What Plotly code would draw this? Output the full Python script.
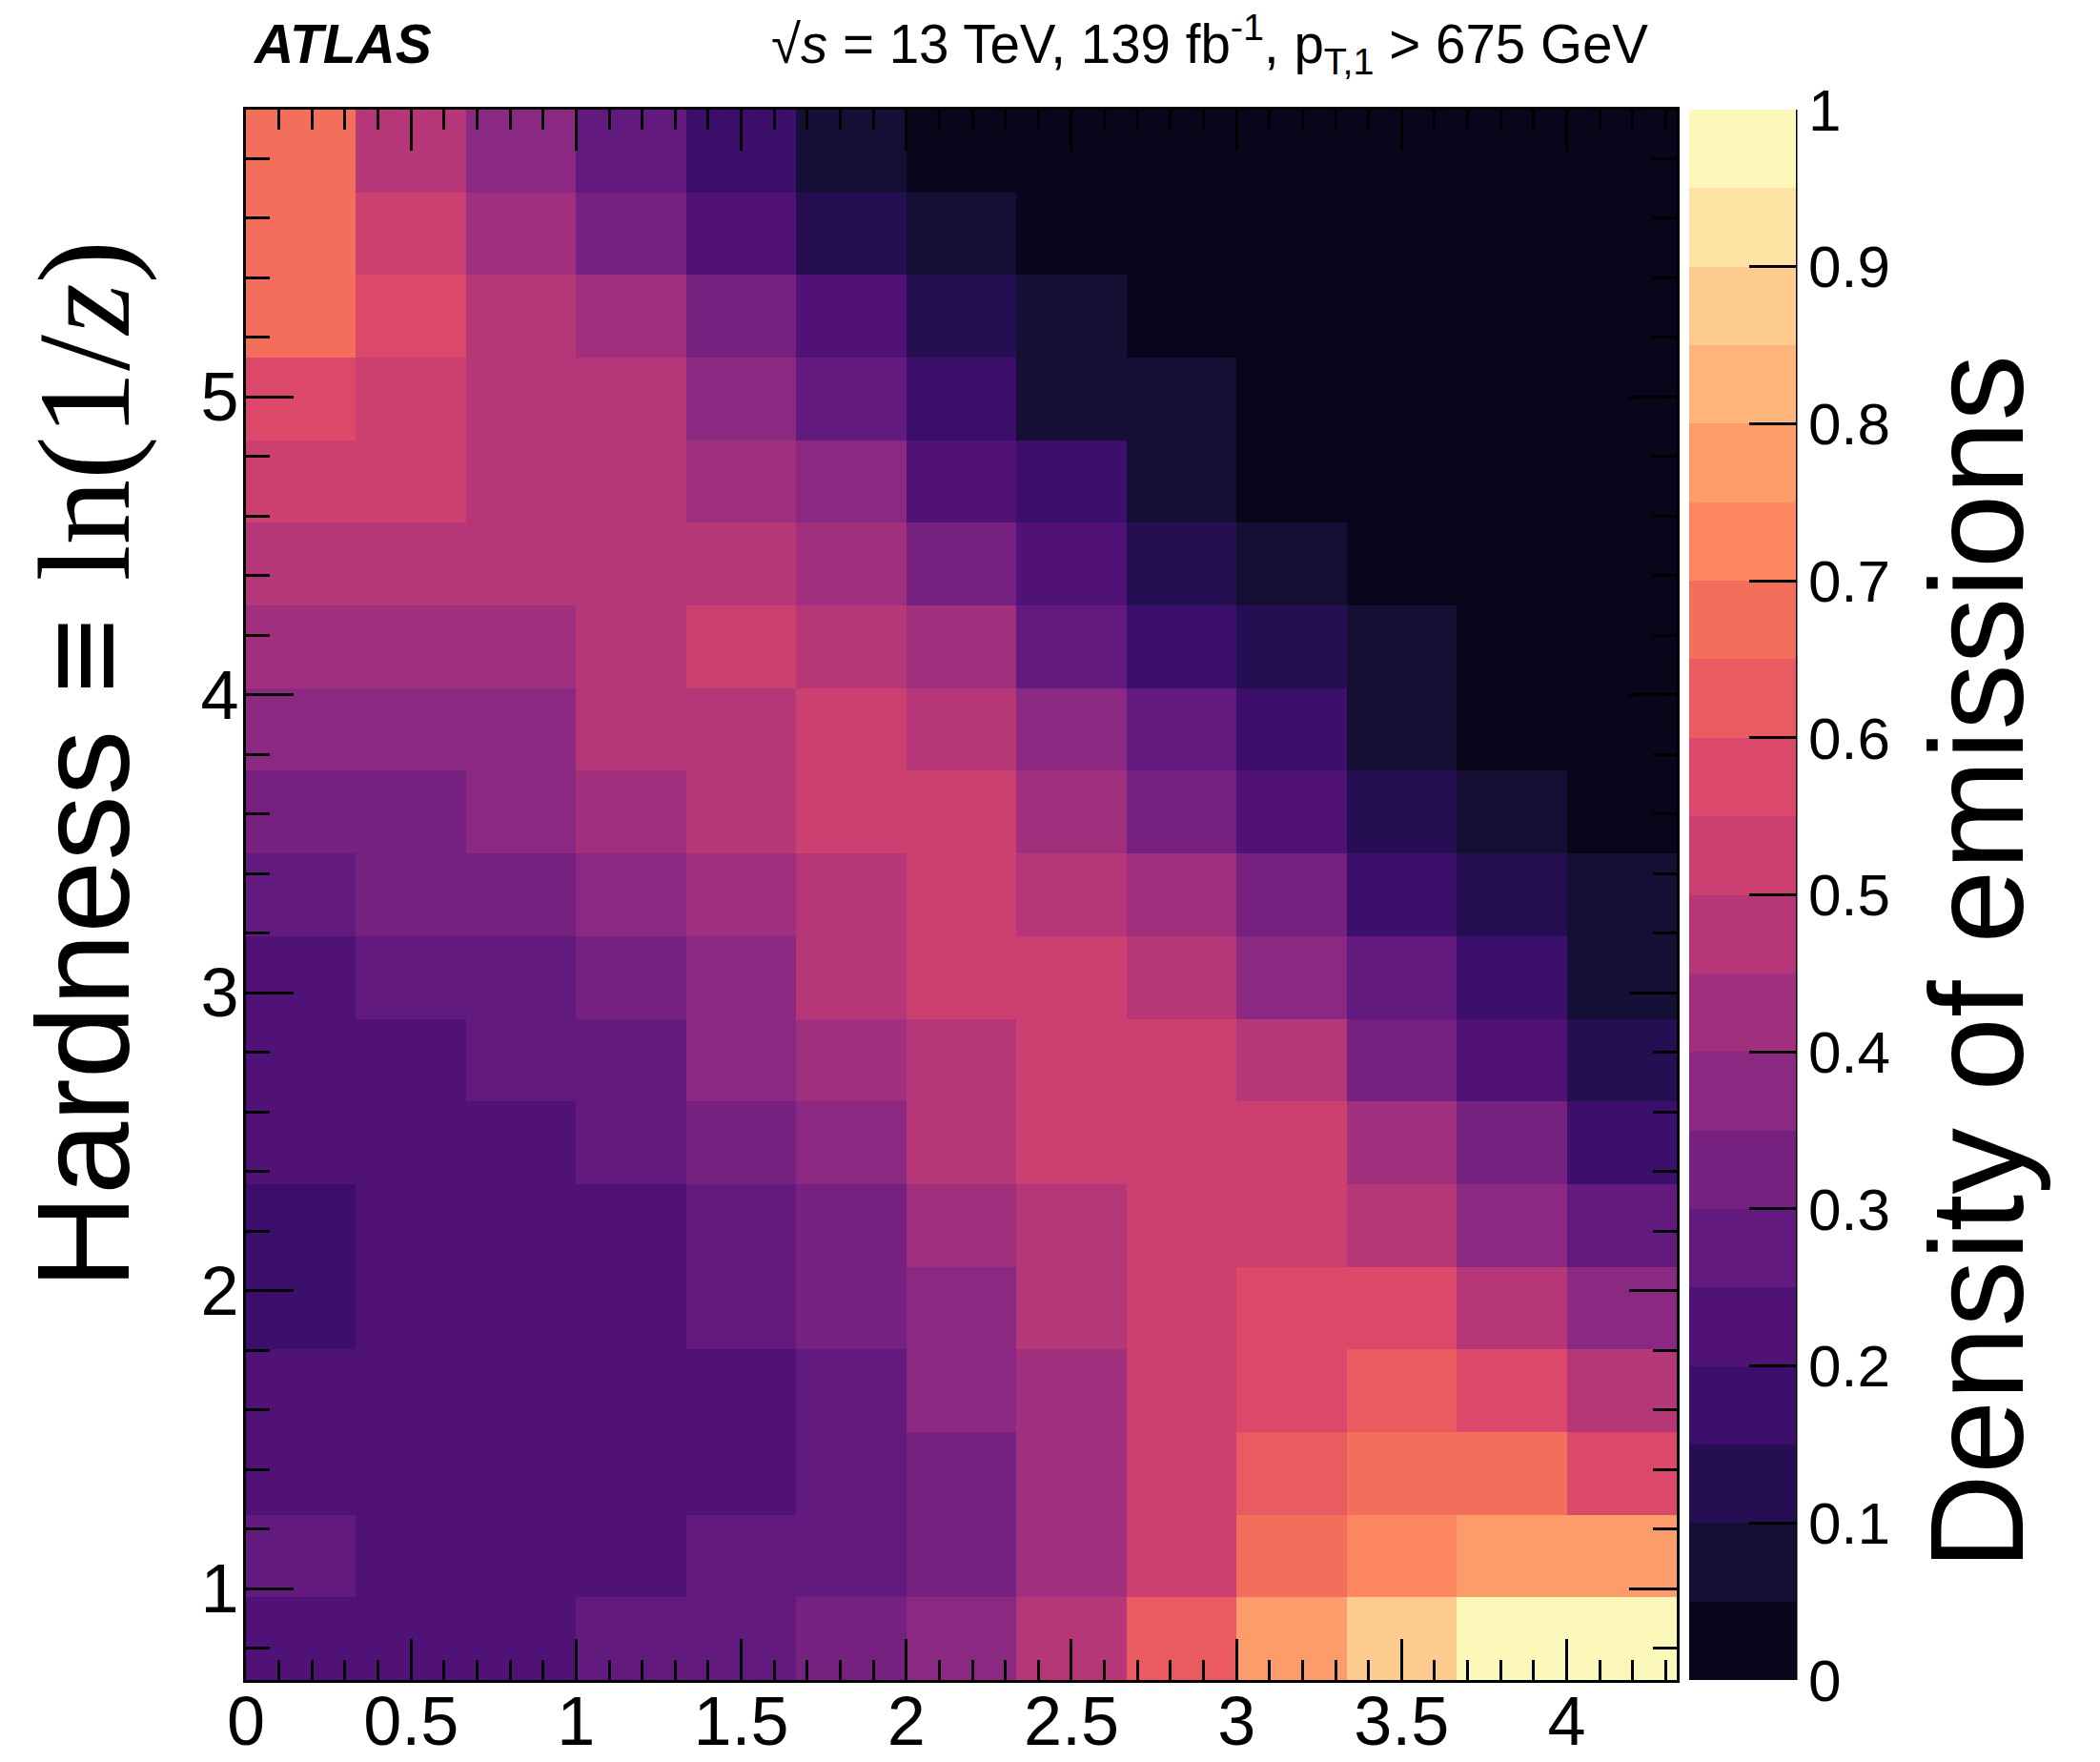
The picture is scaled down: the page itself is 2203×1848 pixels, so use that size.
import plotly.graph_objects as go

# ---------------- data ----------------
# bin edges of the 2D histogram
x_bin_edges = [0.0, 0.3333, 0.6667, 1.0, 1.3333, 1.6667, 2.0, 2.3333, 2.6667,
               3.0, 3.3333, 3.6667, 4.0, 4.3333]
y_bin_edges = [0.693, 0.9704, 1.2478, 1.5252, 1.8026, 2.08, 2.3574, 2.6348,
               2.9122, 3.1896, 3.467, 3.7444, 4.0218, 4.2992, 4.5766, 4.854,
               5.1314, 5.4088, 5.6862, 5.9636]

# density of emissions, rows listed from TOP (high ln(1/z)) to BOTTOM
density_rows_top_to_bottom = [
    [0.68, 0.48, 0.38, 0.28, 0.18, 0.08, 0.02, 0.02, 0.02, 0.02, 0.02, 0.02, 0.02],
    [0.68, 0.52, 0.42, 0.32, 0.22, 0.12, 0.08, 0.02, 0.02, 0.02, 0.02, 0.02, 0.02],
    [0.68, 0.58, 0.48, 0.42, 0.32, 0.22, 0.12, 0.08, 0.02, 0.02, 0.02, 0.02, 0.02],
    [0.58, 0.52, 0.48, 0.48, 0.38, 0.28, 0.18, 0.08, 0.08, 0.02, 0.02, 0.02, 0.02],
    [0.52, 0.52, 0.48, 0.48, 0.42, 0.38, 0.22, 0.18, 0.08, 0.02, 0.02, 0.02, 0.02],
    [0.48, 0.48, 0.48, 0.48, 0.48, 0.42, 0.32, 0.22, 0.12, 0.08, 0.02, 0.02, 0.02],
    [0.42, 0.42, 0.42, 0.48, 0.52, 0.48, 0.42, 0.28, 0.18, 0.12, 0.08, 0.02, 0.02],
    [0.38, 0.38, 0.38, 0.48, 0.48, 0.52, 0.48, 0.38, 0.28, 0.18, 0.08, 0.02, 0.02],
    [0.32, 0.32, 0.38, 0.42, 0.48, 0.52, 0.52, 0.42, 0.32, 0.22, 0.12, 0.08, 0.02],
    [0.28, 0.32, 0.32, 0.38, 0.42, 0.48, 0.52, 0.48, 0.42, 0.32, 0.18, 0.12, 0.08],
    [0.22, 0.28, 0.28, 0.32, 0.38, 0.48, 0.52, 0.52, 0.48, 0.38, 0.28, 0.18, 0.08],
    [0.22, 0.22, 0.28, 0.28, 0.38, 0.42, 0.48, 0.52, 0.52, 0.48, 0.32, 0.22, 0.12],
    [0.22, 0.22, 0.22, 0.28, 0.32, 0.38, 0.48, 0.52, 0.52, 0.52, 0.42, 0.32, 0.18],
    [0.18, 0.22, 0.22, 0.22, 0.28, 0.32, 0.42, 0.48, 0.52, 0.52, 0.48, 0.38, 0.28],
    [0.18, 0.22, 0.22, 0.22, 0.28, 0.32, 0.38, 0.48, 0.52, 0.58, 0.58, 0.48, 0.38],
    [0.22, 0.22, 0.22, 0.22, 0.22, 0.28, 0.38, 0.42, 0.52, 0.58, 0.62, 0.58, 0.48],
    [0.22, 0.22, 0.22, 0.22, 0.22, 0.28, 0.32, 0.42, 0.52, 0.62, 0.68, 0.68, 0.58],
    [0.28, 0.22, 0.22, 0.22, 0.28, 0.28, 0.32, 0.42, 0.52, 0.68, 0.72, 0.78, 0.78],
    [0.22, 0.22, 0.22, 0.28, 0.28, 0.32, 0.38, 0.48, 0.62, 0.78, 0.88, 0.98, 0.98],
]

# 20-level palette (bottom band 0-0.05 first)
band_colors = [
    "#08061a", "#150f35", "#250f52", "#3b0f6b", "#511278",
    "#631a7e", "#762180", "#8b2881", "#a02f7e", "#b63778",
    "#cb4070", "#db486a", "#e95a61", "#f46e5c", "#fc8761",
    "#fd9c6b", "#feb57b", "#fecc8e", "#fde3a3", "#fcf8ba",
]

colorbar_ticks = [0, 0.1, 0.2, 0.3, 0.4, 0.5, 0.6, 0.7, 0.8, 0.9, 1]

# ---------------- build ----------------
n_bands = len(band_colors)
colorscale = []
for k, c in enumerate(band_colors):
    colorscale.append([k / n_bands, c])
    colorscale.append([(k + 1) / n_bands, c])

z = density_rows_top_to_bottom[::-1]  # bottom row first for ascending y

W, H = 2203, 1848
L, R, T, B = 258, 444, 115, 86
pw = W - L - R
ph = H - T - B


def px_x(x):
    return (x - L) / pw


def px_y(y):
    return (H - B - y) / ph


FONT = "Liberation Sans"

fig = go.Figure()
fig.add_trace(go.Heatmap(
    x=x_bin_edges, y=y_bin_edges, z=z,
    zmin=0, zmax=1, colorscale=colorscale,
    hoverinfo="skip",
    colorbar=dict(
        x=px_x(1772), xanchor="left", xpad=0,
        y=0.5, yanchor="middle", len=1, lenmode="fraction", ypad=0,
        thickness=112, thicknessmode="pixels",
        outlinewidth=0,
        ticks="inside", ticklen=49, tickwidth=3, tickcolor="black",
        tickvals=colorbar_ticks,
        ticktext=[("%g" % v) for v in colorbar_ticks],
        tickfont=dict(family=FONT, size=62, color="black"),
    ),
))

axis_common = dict(
    showgrid=False, zeroline=False, showline=True, linecolor="black",
    linewidth=3, mirror="allticks", ticks="inside", tickcolor="black",
    tickwidth=3, automargin=False,
)

fig.update_xaxes(
    range=[x_bin_edges[0], x_bin_edges[-1]], tick0=0, dtick=0.5,
    ticklen=43, ticklabelstandoff=-21,
    minor=dict(dtick=0.1, tick0=0, ticks="inside", ticklen=21,
               tickwidth=3, tickcolor="black"),
    tickfont=dict(family=FONT, size=72, color="black"),
    **axis_common,
)
fig.update_yaxes(
    range=[y_bin_edges[0], y_bin_edges[-1]], tick0=0, dtick=1,
    ticklen=50, ticklabelstandoff=-10,
    minor=dict(dtick=0.2, tick0=0, ticks="inside", ticklen=25,
               tickwidth=3, tickcolor="black"),
    tickfont=dict(family=FONT, size=72, color="black"),
    **axis_common,
)

fig.add_shape(type="line", xref="paper", yref="paper",
              x0=px_x(1884), x1=px_x(1884), y0=0, y1=1,
              line=dict(color="black", width=3))

fig.add_annotation(
    xref="paper", yref="paper", x=px_x(263), y=px_y(46),
    xanchor="left", yanchor="middle", showarrow=False,
    text="<b><i>ATLAS</i></b>",
    font=dict(family=FONT, size=57, color="black"),
)
fig.add_annotation(
    xref="paper", yref="paper", x=px_x(1731), y=px_y(46),
    xanchor="right", yanchor="middle", showarrow=False,
    text="√<i>s</i> = 13 TeV, 139 fb<sup>-1</sup>, p<sub>T,1</sub> &gt; 675 GeV",
    font=dict(family=FONT, size=56.5, color="black"),
)
fig.add_annotation(
    xref="paper", yref="paper", x=px_x(88), y=px_y(250),
    xanchor="center", yanchor="top", showarrow=False, textangle=-90,
    text="Hardness ≡ <span style=\"font-family:Liberation Serif\">ln(1/<i>z</i>)</span>",
    font=dict(family=FONT, size=137, color="black"),
)
fig.add_annotation(
    xref="paper", yref="paper", x=px_x(2073), y=px_y(370),
    xanchor="center", yanchor="top", showarrow=False, textangle=-90,
    text="Density of emissions",
    font=dict(family=FONT, size=139, color="black"),
)

fig.update_layout(
    width=W, height=H,
    margin=dict(l=L, r=R, t=T, b=B, pad=0, autoexpand=False),
    paper_bgcolor="white", plot_bgcolor="white",
    font=dict(family=FONT, color="black"),
    showlegend=False,
)

fig.write_html("out.html")
